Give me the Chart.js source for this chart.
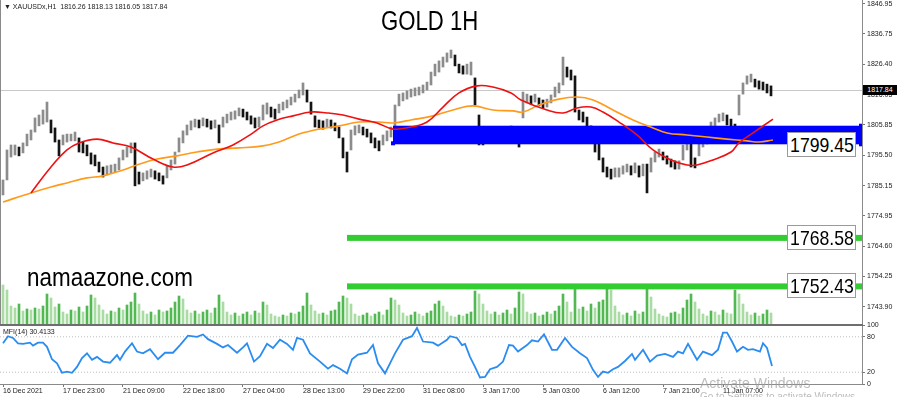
<!DOCTYPE html>
<html>
<head>
<meta charset="utf-8">
<script src="https://cdn.jsdelivr.net/npm/chart.js@4.4.1/dist/chart.umd.min.js"></script>
<style>
  body { margin: 0; background: #fff; width: 900px; height: 397px; overflow: hidden; position: relative;
         font-family: "Liberation Sans", Arial, sans-serif; }
  canvas { position: absolute; left: 0; }
  #main { top: 0; }
  #mfi { top: 318px; }
  .txt { position: absolute; white-space: nowrap; color: #000; line-height: 1; }
  .small { font-size: 7px; color: #222; }
  .box { position: absolute; background: #fff; border: 1px solid #9a9a9a; width: 67px; height: 23px;
         display: flex; align-items: center; justify-content: center; overflow: hidden; }
  .box span { font-size: 21px; line-height: 1; transform: scaleX(0.84); }
  #sep { position: absolute; left: 0; top: 324px; width: 863px; height: 2px; background: #6e6e6e; }
  #bid { position: absolute; left: 863px; width: 34px; height: 10px; background: #000; color: #fff;
         font-size: 7px; line-height: 10px; text-align: center; }
</style>
</head>
<body>
<canvas id="main" width="900" height="324"></canvas>
<canvas id="mfi" width="900" height="79"></canvas>
<div id="sep"></div>

<div class="txt small" style="left:4px;top:3px;">▼ XAUUSDx,H1&nbsp; 1816.26 1818.13 1816.05 1817.84</div>
<div class="txt" id="title" style="left:381px;top:8px;font-size:27px;transform:scaleX(0.82);transform-origin:left top;">GOLD 1H</div>
<div class="txt" id="site" style="left:27px;top:265px;font-size:25.8px;transform:scaleX(0.87);transform-origin:left top;">namaazone.com</div>
<div class="txt small" style="left:3px;top:328px;">MFI(14) 30.4133</div>
<div class="box" id="boxZone"><span></span></div>
<div class="box" id="boxL1"><span></span></div>
<div class="box" id="boxL2"><span></span></div>
<div id="bid"></div>
<div class="txt" style="left:700px;top:376px;font-size:14px;color:rgba(160,160,160,0.7);">Activate Windows</div>
<div class="txt" style="left:700px;top:392px;font-size:10px;color:rgba(160,160,160,0.7);">Go to Settings to activate Windows.</div>

<script>
// hourly gold, drawn here as 2-hour bars (high / low)
const highs = [1787.1,1797.3,1799.0,1799.0,1798.3,1799.7,1802.7,1804.1,1808.2,1809.2,
  1810.9,1813.6,1807.5,1804.8,1800.7,1802.4,1802.7,1802.7,1803.4,1801.4,
  1800.0,1799.0,1796.3,1795.6,1793.2,1791.5,1791.9,1792.2,1792.5,1794.6,
  1797.3,1798.3,1799.7,1799.7,1789.8,1789.5,1790.2,1790.8,1790.2,1789.5,
  1788.5,1791.9,1793.9,1796.6,1801.4,1803.8,1805.8,1807.2,1807.8,1807.5,
  1808.2,1807.8,1807.2,1807.5,1805.8,1808.5,1809.5,1810.2,1810.6,1811.6,
  1811.2,1810.2,1808.9,1808.2,1808.5,1812.6,1813.3,1811.9,1811.2,1812.9,
  1813.6,1814.3,1815.3,1816.3,1817.7,1820.1,1817.7,1813.6,1808.9,1807.5,
  1807.2,1807.8,1807.5,1806.5,1805.1,1801.4,1796.6,1804.1,1805.5,1805.8,
  1805.1,1804.4,1803.1,1801.4,1800.4,1802.4,1803.8,1805.1,1812.6,1816.3,
  1816.7,1817.4,1818.0,1818.4,1818.7,1819.4,1820.4,1823.8,1826.5,1827.6,
  1828.9,1830.3,1831.3,1829.6,1826.5,1825.9,1826.5,1827.2,1821.8,1809.2,
  1802.4,1803.1,1804.1,1804.8,1805.1,1804.8,1804.4,1805.5,1804.8,1804.1,
  1817.0,1816.3,1815.7,1816.3,1815.0,1814.3,1814.6,1816.0,1818.7,1820.1,
  1828.9,1825.5,1824.5,1822.5,1810.9,1810.2,1808.5,1805.5,1801.4,1800.7,
  1794.6,1791.5,1790.8,1791.2,1791.2,1791.9,1792.5,1791.9,1792.9,1791.9,
  1792.5,1792.5,1794.6,1796.6,1797.6,1796.6,1795.3,1794.2,1793.6,1793.6,
  1799.0,1800.7,1799.7,1794.6,1800.7,1801.0,1802.1,1806.8,1808.2,1809.5,
  1809.9,1809.2,1807.8,1806.1,1816.0,1820.1,1822.5,1823.1,1821.4,1820.8,
  1820.4,1819.7,1819.1];

const lows = [1782.0,1787.1,1794.9,1795.6,1795.3,1796.3,1798.7,1800.7,1803.4,1805.5,
  1806.1,1806.8,1803.1,1800.0,1795.3,1799.0,1800.0,1800.4,1800.4,1796.6,
  1796.3,1795.3,1792.5,1791.9,1789.8,1788.1,1788.8,1789.5,1789.8,1790.5,
  1793.9,1794.9,1796.3,1785.1,1785.7,1786.8,1787.4,1788.1,1787.4,1786.8,
  1785.7,1787.8,1790.5,1792.5,1796.6,1799.7,1802.4,1804.1,1805.1,1804.8,
  1805.5,1805.1,1804.4,1804.8,1799.7,1805.1,1806.5,1807.5,1807.8,1808.9,
  1808.5,1807.5,1806.1,1804.8,1805.1,1807.5,1809.5,1808.5,1807.8,1809.9,
  1810.9,1811.6,1812.6,1813.6,1815.0,1816.0,1813.6,1809.5,1805.1,1804.8,
  1804.4,1805.1,1804.8,1803.8,1801.4,1794.6,1789.8,1797.3,1802.4,1803.1,
  1802.4,1801.7,1799.7,1798.0,1797.0,1799.0,1800.4,1801.7,1804.8,1812.3,
  1814.0,1814.6,1815.3,1815.7,1816.0,1816.7,1817.7,1819.4,1822.5,1823.8,
  1825.5,1827.2,1828.6,1825.9,1823.5,1823.1,1823.1,1822.8,1812.6,1799.0,
  1799.0,1799.7,1801.4,1801.7,1802.4,1802.1,1801.7,1802.7,1800.7,1798.3,
  1808.2,1813.3,1812.9,1813.6,1812.3,1811.6,1811.9,1813.3,1815.3,1816.7,
  1819.4,1822.1,1821.1,1810.2,1807.5,1806.8,1805.1,1801.4,1796.6,1793.9,
  1789.8,1788.1,1787.4,1788.1,1788.1,1789.1,1789.8,1788.8,1789.5,1788.1,
  1788.5,1782.7,1789.8,1793.2,1794.9,1793.9,1792.5,1791.5,1790.8,1790.8,
  1793.9,1797.3,1791.5,1791.2,1795.3,1798.3,1799.3,1802.7,1805.5,1806.8,
  1807.2,1805.8,1804.1,1801.7,1809.2,1816.3,1819.7,1820.4,1818.7,1818.0,
  1817.7,1816.7,1815.7];

const volumes = [3900,3400,1800,1600,2000,1300,1500,1400,1600,1500,
  1800,3000,2600,1700,2000,1200,1000,1400,1300,1700,
  1200,1800,2900,2600,1900,1400,1000,1300,1200,1600,
  1400,1900,2200,3100,2000,1300,1000,1200,900,1400,
  1200,1300,1600,2200,2800,2500,1400,1100,1300,1000,
  1200,1400,1100,1600,2900,2200,1200,900,1100,800,
  1000,1200,900,1300,1100,2200,1900,1000,800,700,
  900,800,1100,1000,1200,1800,3100,1900,1300,1000,
  1100,900,1300,1400,2200,2800,2600,2000,1000,800,
  900,1100,800,1000,1200,900,1400,2600,2400,1900,
  1100,800,900,1200,1000,800,1100,1300,2000,2300,
  1800,1200,800,700,900,800,1000,1200,3300,3000,
  2000,1300,1000,1200,900,1100,1400,1000,1600,3200,
  3000,1200,1000,1100,800,900,1200,1000,1300,1800,
  3000,2200,1200,3700,1500,1700,1300,2000,1600,2200,
  2400,3700,3400,1800,1200,900,1100,800,1300,1000,
  1200,3600,2700,1500,1000,800,700,1100,1200,1000,
  1600,2400,3000,2200,1500,1000,800,1300,1200,900,
  1400,1100,1000,3400,3000,2000,1200,900,1100,800,
  1000,1400,1100];

// moving averages (bar index, price)
const redMaIdx = [7,12,16,19,23.5,27.5,32,37.5,42.5,46,52.5,57.5,62.5,65,68.5,72.5,77,81,85,89,
  93.5,97.5,102,106,110,114,118.5,122.5,127,129.5,136,140,143.5,147,150,154,158.5,162.5,167,171,
  173.5,177.5,182,184,187.5,192.5];
const redMaVals = [1782.7,1791.5,1797.3,1799.7,1801.0,1799.7,1798.3,1794.2,1791.5,1792.2,
  1796.3,1799.0,1803.1,1805.5,1807.5,1808.9,1810.2,1809.9,1809.2,1807.8,
  1806.5,1804.4,1805.1,1806.8,1811.9,1816.7,1819.1,1818.7,1816.7,1814.3,
  1810.9,1809.9,1811.6,1811.9,1810.2,1806.8,1802.4,1797.3,1793.9,1792.2,
  1792.2,1793.9,1796.6,1799.7,1803.1,1807.8];
const orangeMaIdx = [0,7,12,16,21,25,30,33.5,38.5,43.5,48.5,53.5,59,65,69,74,79,84,89,94,
  97.5,102,107.5,112.5,117.5,122.5,127.5,130,134,139,143.5,147.5,152.5,157.5,162.5,166,171,176,181,186,
  189,192.5];
const orangeMaVals = [1779.6,1782.7,1784.7,1786.1,1787.8,1788.5,1790.5,1792.2,1794.2,1795.3,
  1796.6,1797.6,1798.0,1798.7,1800.0,1802.7,1804.4,1805.5,1806.8,1806.8,
  1806.5,1807.5,1808.9,1810.9,1812.3,1810.9,1810.6,1810.2,1812.6,1814.6,
  1815.3,1814.3,1810.9,1807.5,1804.8,1803.1,1802.4,1801.7,1801.0,1800.4,
  1800.0,1800.7];

// MFI(14)
const mfiIdx = [0,1.25,2.5,3.75,5,6.75,7.5,8.75,10,11,
  12.25,13.5,14.75,16,17.25,18.5,19.75,21,22.25,23.5,
  25,26.75,28.5,29.25,30.5,32.25,33.5,35,36.75,38.75,
  40.5,42.5,44.25,46.25,48.5,50,51.25,53.5,55,56.25,
  58.5,60,61,62.75,64.25,66,67.5,69.25,71,72.5,
  73.5,75,76.75,79.25,81.25,82.5,84.25,86,87.25,88.75,
  91,92.5,93.75,95.5,96.75,98,100,102.25,103.5,105,
  107.5,108.75,111,111.75,113.5,114.75,115.5,116.75,118,119.25,
  120.5,121.75,123.5,125,126.5,127.5,128.75,131,132.25,133.75,
  135.25,137.25,138.5,140.5,142.25,144.25,146,147.5,148.75,150,
  151.25,152.5,153.75,155.5,157.25,158,160,161.75,163.5,165.5,
  167.5,168.75,170,171.25,173.5,175,177.25,178.75,180,181,
  182.25,183.5,185,186.25,187.5,189.25,190,191,192.25];
const mfiVals = [69,81,78,69,68,70,65,70,70,63,
  42,35,19,21,19,29,44,52,41,46,
  38,36,49,41,55,69,55,52,59,42,
  53,53,66,82,80,84,76,68,62,66,
  53,62,69,38,47,68,61,75,68,58,
  78,75,52,38,26,32,26,18,42,50,
  53,66,35,18,35,52,75,81,95,72,
  70,65,75,81,78,66,68,46,29,11,
  12,25,29,38,66,65,55,66,74,72,
  84,58,58,78,63,52,44,24,12,21,
  19,25,29,39,51,41,58,38,48,51,
  46,55,52,68,41,55,49,58,87,87,
  72,55,63,58,59,55,69,61,30.41];
const mfiLevels = [80, 20];

// axes
const priceTicks = [1846.95,1836.75,1826.40,1816.05,1805.85,1795.50,1785.15,1774.95,1764.60,1754.25,1743.90];
const mfiTicks = [100, 80, 20, 0];
const timeTickIdx = [0,15,30,45,60,75,90,105,120,135,150,165,180];
const timeLabels = ['16 Dec 2021','17 Dec 23:00','21 Dec 09:00','22 Dec 18:00','27 Dec 04:00','28 Dec 13:00',
  '29 Dec 22:00','31 Dec 08:00','3 Jan 17:00','5 Jan 03:00','6 Jan 12:00','7 Jan 21:00','11 Jan 07:00'];

// drawn objects
const bidPrice = 1817.84;
const zoneStart = 97.5, zoneLow = 1799.23, zoneHigh = 1805.55, zoneLabel = '1799.45';
const levelStart = 86;
const levelPrices = [1767.4, 1750.9];
const levelLabels = ['1768.58', '1752.43'];

const X_MIN = -0.75, X_MAX = 214.75;
const axisFont = { family: 'Liberation Sans', size: 7 };

const candleColors = highs.map((h, i) => {
  if (i === 0) return '#8c8c8c';
  return (h + lows[i]) >= (highs[i - 1] + lows[i - 1]) ? '#8c8c8c' : '#141414';
});
const volColors = volumes.map((v, i) => (i > 0 && v > volumes[i - 1]) ? '#52b852' : '#a9dba3');

function fixRight(s) { s.width = 38; s.paddingTop = 0; s.paddingBottom = 0; }

const mainDecor = {
  id: 'mainDecor',
  beforeDatasetsDraw(chart) {
    const { ctx, chartArea: a, scales: { y } } = chart;
    const by = Math.round(y.getPixelForValue(bidPrice)) + 0.5;
    ctx.save();
    ctx.strokeStyle = '#c8c8c8';
    ctx.lineWidth = 1;
    ctx.beginPath(); ctx.moveTo(a.left, by); ctx.lineTo(a.right, by); ctx.stroke();
    ctx.restore();
  },
  afterDatasetDraw(chart, args) {
    if (args.index !== 0) return;
    const { ctx, chartArea: a, scales: { x, y } } = chart;
    const x0 = x.getPixelForValue(zoneStart);
    const yt = y.getPixelForValue(zoneHigh), yb = y.getPixelForValue(zoneLow);
    ctx.save();
    ctx.fillStyle = '#0000ff';
    ctx.fillRect(x0, yt, a.right - x0, yb - yt);
    ctx.fillRect(x0 - 2, yb - 3, 4, 4);
    ctx.fillRect(a.right - 3, yt - 2, 3, yb - yt + 4);
    ctx.restore();
  },
  afterDatasetsDraw(chart) {
    const { ctx, chartArea: a, scales: { x, y } } = chart;
    const x0 = x.getPixelForValue(levelStart);
    ctx.save();
    ctx.fillStyle = '#33cc33';
    levelPrices.forEach(p => {
      const py = y.getPixelForValue(p);
      ctx.fillRect(x0, py - 3, a.right - x0, 6);
    });
    ctx.strokeStyle = '#8a8a8a';
    ctx.beginPath(); ctx.moveTo(0.5, 0); ctx.lineTo(0.5, a.bottom); ctx.stroke();
    ctx.restore();
  }
};

const mainChart = new Chart(document.getElementById('main'), {
  type: 'bar',
  data: {
    datasets: [
      { type: 'bar', label: 'XAUUSD', data: highs.map((h, i) => ({ x: i, y: [lows[i], h] })),
        backgroundColor: candleColors, barThickness: 2, grouped: false, order: 1, yAxisID: 'y' },
      { type: 'bar', label: 'Volumes', data: volumes.map((v, i) => ({ x: i, y: v })),
        backgroundColor: volColors, barThickness: 2, grouped: false, order: 2, yAxisID: 'yv' },
      { type: 'line', label: 'MA fast', data: redMaIdx.map((v, k) => ({ x: v, y: redMaVals[k] })),
        borderColor: '#ee1111', borderWidth: 1.6, pointRadius: 0, tension: 0.4, order: 0, yAxisID: 'y' },
      { type: 'line', label: 'MA slow', data: orangeMaIdx.map((v, k) => ({ x: v, y: orangeMaVals[k] })),
        borderColor: '#ff9a1a', borderWidth: 1.6, pointRadius: 0, tension: 0.4, order: 0, yAxisID: 'y' }
    ]
  },
  options: {
    responsive: false,
    animation: false,
    events: [],
    layout: { padding: 0 },
    plugins: { legend: { display: false }, tooltip: { enabled: false } },
    scales: {
      x: { type: 'linear', min: X_MIN, max: X_MAX, offset: false, display: false },
      y: {
        position: 'right', min: 1738.11, max: 1848.31,
        afterBuildTicks: s => { s.ticks = priceTicks.map(v => ({ value: v })); },
        afterFit: fixRight,
        ticks: { autoSkip: false, font: axisFont, color: '#222', padding: 2, callback: v => v.toFixed(2) },
        grid: { drawOnChartArea: false, tickLength: 3, color: '#777' },
        border: { color: '#8a8a8a' }
      },
      yv: { display: false, min: 0, max: 32400 }
    }
  },
  plugins: [mainDecor]
});

const mfiChart = new Chart(document.getElementById('mfi'), {
  type: 'line',
  data: {
    datasets: [
      { label: 'MFI(14)', data: mfiIdx.map((v, k) => ({ x: v, y: mfiVals[k] })),
        borderColor: '#2a8cf0', borderWidth: 1.8, pointRadius: 0, tension: 0, order: 0 },
      ...mfiLevels.map(l => ({ label: 'level', data: [{ x: X_MIN, y: l }, { x: X_MAX, y: l }],
        borderColor: '#bdbdbd', borderWidth: 1, borderDash: [1, 2], pointRadius: 0, order: 1 }))
    ]
  },
  options: {
    responsive: false,
    animation: false,
    events: [],
    layout: { padding: { top: 7, left: 0, right: 0, bottom: 0 } },
    plugins: { legend: { display: false }, tooltip: { enabled: false } },
    scales: {
      x: {
        type: 'linear', min: X_MIN, max: X_MAX, offset: false,
        afterBuildTicks: s => { s.ticks = timeTickIdx.map(v => ({ value: v })); },
        afterFit: s => { s.height = 13; s.paddingLeft = 0; s.paddingRight = 0; },
        ticks: { autoSkip: false, maxRotation: 0, align: 'start', font: axisFont, color: '#222', padding: 0,
                 callback: v => timeLabels[timeTickIdx.indexOf(v)] },
        grid: { drawOnChartArea: false, tickLength: 3, color: '#777' },
        border: { color: '#8a8a8a' }
      },
      y: {
        position: 'right', min: 0, max: 100,
        afterBuildTicks: s => { s.ticks = mfiTicks.map(v => ({ value: v })); },
        afterFit: fixRight,
        ticks: { autoSkip: false, font: axisFont, color: '#222', padding: 2 },
        grid: { drawOnChartArea: false, tickLength: 3, color: '#777' },
        border: { color: '#8a8a8a' }
      }
    }
  }
});

// price-anchored labels
const ys = mainChart.scales.y;
function place(id, text, price, dy) {
  const el = document.getElementById(id);
  el.querySelector('span').textContent = text;
  el.style.left = '787px';
  el.style.top = (ys.getPixelForValue(price) + dy) + 'px';
}
place('boxZone', zoneLabel, zoneLow, -12);
place('boxL1', levelLabels[0], levelPrices[0], -13);
place('boxL2', levelLabels[1], levelPrices[1], -13);
const bid = document.getElementById('bid');
bid.textContent = bidPrice.toFixed(2);
bid.style.top = (ys.getPixelForValue(bidPrice) - 5) + 'px';
</script>
</body>
</html>
